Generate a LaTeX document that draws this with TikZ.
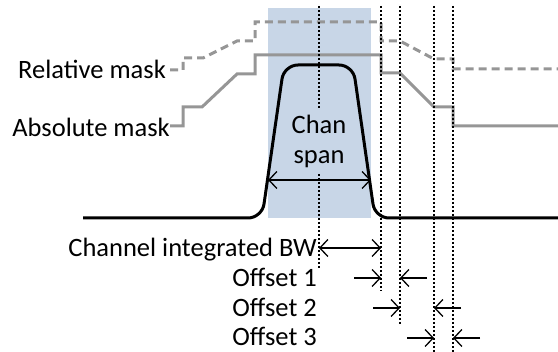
\documentclass[tikz,border=0pt]{standalone}
\usepackage{fontspec}
\setmainfont{Carlito}
\usetikzlibrary{
  arrows.meta,
  calc
}
\definecolor{spancolor}{RGB}{200, 214, 231}
\definecolor{maskcolor}{RGB}{150, 150, 150}
\definecolor{tracecolor}{RGB}{0, 0, 0}
\tikzset{
labeltext/.style={
  font=\fontsize{26.5}{30}\selectfont,
  inner sep=0pt
},
spanbox/.style={
  fill=spancolor,
  draw=none
},
trace/.style={
  draw=tracecolor,
  line width=3pt,
  rounded corners=14pt
},
absmask/.style={
  draw=maskcolor,
  line width=3pt
},
relmask/.style={
  absmask,
  dash pattern=on 8pt off 5pt
},
marker/.style={
  draw=black,
  line width=1.4pt,
  dash pattern=on 2pt off 2pt
},
dimarrow/.style={
  -{Straight Barb[length=8pt,width=17pt]},
  line width=1.3pt
},
dimboth/.style={
  {Straight Barb[length=8pt,width=17pt]}-{Straight Barb[length=8pt,width=17pt]},
  line width=1.3pt
}
}

\begin{document}
\begin{tikzpicture}[x=1pt,y=-1pt]
  \useasboundingbox (0,0) rectangle (558,352);
  % channel span
  \fill[spanbox] (268,8) rectangle (371,218);

  % masks
  \node[labeltext, anchor=base east] (lblrel) at (166,79) {Relative mask};
  \node[labeltext, anchor=base east] (lblabs) at (170,137) {Absolute mask};
  \draw[relmask] (170,70) -- (183,70) -- (183,58) -- (203,58) -- (237,41) -- (255,41)
    -- (255,22) -- (381,22) -- (381,41) -- (400,41) -- (434,59) -- (453,59) -- (453,69) -- (558,69);
  \draw[absmask] (170,126) -- (183,126) -- (183,107) -- (202,107) -- (237,74) -- (255,74)
    -- (255,55) -- (381,55) -- (381,73) -- (400,73) -- (434,107) -- (453,107) -- (453,126) -- (558,126);

  % signal
  \draw[trace] (83,218) -- (262,218) -- (284,65) -- (353,65) -- (375,218) -- (558,218);

  % marker lines
  \foreach \n/\x/\y in {0/319/268, 1/381/291, 2/400/324, 3/434/352, 4/453/352} {
    \coordinate (top\n) at (\x,6);
    \coordinate (bot\n) at (\x,\y);
    \draw[marker] (top\n) -- (bot\n);
  }

  \node[labeltext, fill=spancolor, align=center, inner ysep=5pt, inner xsep=2pt]
    (chanspan) at (319,141) {Chan\\span};
  \coordinate (spanL) at (268,180);
  \coordinate (spanR) at (371,180);
  \draw[dimboth] (spanL) -- (spanR);

  % bandwidth and offsets
  \node[labeltext, anchor=base east] (lblbw) at (317,257) {Channel integrated BW};
  \node[labeltext, anchor=base east] (lblo1) at (317,287) {Offset 1};
  \node[labeltext, anchor=base east] (lblo2) at (317,317) {Offset 2};
  \node[labeltext, anchor=base east] (lblo3) at (317,346) {Offset 3};
  \coordinate (row0) at (0,248);
  \draw[dimboth] (top0 |- row0) -- (top1 |- row0);
  \foreach \i/\a/\b in {1/1/2, 2/2/3, 3/3/4} {
    \coordinate (row\i) at (0,{248+30*\i});
    \draw[dimarrow] ($(top\a |- row\i)+(-27,0)$) -- (top\a |- row\i);
    \draw[dimarrow] ($(top\b |- row\i)+(27,0)$) -- (top\b |- row\i);
  }
\end{tikzpicture}
\end{document}
